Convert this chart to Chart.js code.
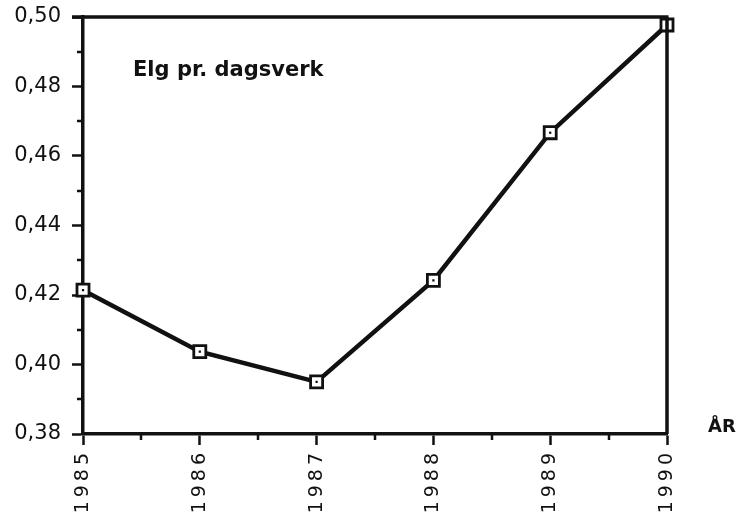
<!DOCTYPE html>
<html>
<head>
<meta charset="utf-8">
<script src="https://cdn.jsdelivr.net/npm/chart.js@4/dist/chart.umd.min.js"></script>
<style>
  html, body { margin: 0; padding: 0; background: #ffffff; }
  #wrap { width: 743px; height: 518px; }
</style>
</head>
<body>
<div id="wrap"><canvas id="chart" width="743" height="518"></canvas></div>
<script>
// Elg pr. dagsverk, 1985-1990
const years = ['1985', '1986', '1987', '1988', '1989', '1990'];
const elgPerDagsverk = [0.4214, 0.4037, 0.3950, 0.4242, 0.4667, 0.4977];
const yMin = 0.38;
const yMax = 0.50;
const yStep = 0.02;
const titleText = 'Elg pr. dagsverk';
const axisText = 'ÅR';

const ink = '#111111';

// sperring i årstallene, som på originalen
function spaceLabels(chart, scale, spacing) {
  if (!scale || scale._spaced) return;
  const orig = scale.drawLabels.bind(scale);
  scale.drawLabels = function (area) {
    const ctx = chart.ctx;
    ctx.save();
    ctx.letterSpacing = spacing;
    orig(area);
    ctx.restore();
  };
  scale._spaced = true;
}

// Ramme, små tikker og tekster som ikke passer i Chart.js sine egne felt.
const framePlugin = {
  id: 'framePlugin',
  beforeDraw(chart) {
    spaceLabels(chart, chart.scales.x, '4px');
  },
  afterDraw(chart) {
    const ctx = chart.ctx;
    const area = chart.chartArea;
    const xs = chart.scales.x;
    const ys = chart.scales.y;

    ctx.save();
    ctx.strokeStyle = ink;
    ctx.lineCap = 'butt';

    // topp og høyre kant
    ctx.lineWidth = 3.5;
    ctx.beginPath();
    ctx.moveTo(area.left - 11, area.top);
    ctx.lineTo(area.right + 1.5, area.top);
    ctx.moveTo(area.right, area.top);
    ctx.lineTo(area.right, area.bottom);
    ctx.stroke();

    // små tikker
    ctx.lineWidth = 2.5;
    ctx.beginPath();
    for (let v = yMin + yStep / 2; v < yMax; v += yStep) {
      const py = Math.round(ys.getPixelForValue(v));
      ctx.moveTo(area.left - 6, py);
      ctx.lineTo(area.left, py);
    }
    for (let i = 0; i < years.length - 1; i++) {
      const px = Math.round((xs.getPixelForTick(i) + xs.getPixelForTick(i + 1)) / 2);
      ctx.moveTo(px, area.bottom);
      ctx.lineTo(px, area.bottom + 6);
    }
    ctx.stroke();

    ctx.fillStyle = ink;
    ctx.textBaseline = 'alphabetic';
    ctx.textAlign = 'left';
    ctx.font = 'bold 21px "DejaVu Sans"';
    ctx.fillText(titleText, area.left + 50, area.top + 59);

    ctx.font = 'bold 18px "DejaVu Sans"';
    ctx.fillText(axisText, area.right + 41, area.bottom - 2);

    ctx.restore();
  }
};

new Chart(document.getElementById('chart'), {
  type: 'line',
  data: {
    labels: years,
    datasets: [
      {
        data: elgPerDagsverk,
        order: 2,
        borderColor: ink,
        borderWidth: 4.5,
        tension: 0,
        pointStyle: 'rect',
        pointRadius: 8.5,
        pointBorderWidth: 2.8,
        pointBackgroundColor: '#ffffff',
        pointBorderColor: ink
      },
      {
        data: elgPerDagsverk,
        order: 1,
        showLine: false,
        pointStyle: 'rect',
        pointRadius: 1.6,
        pointBorderWidth: 0,
        pointBackgroundColor: ink
      }
    ]
  },
  options: {
    responsive: false,
    animation: false,
    layout: { padding: { top: 17, right: 76, left: 0, bottom: 0 } },
    plugins: {
      legend: { display: false },
      tooltip: { enabled: false }
    },
    scales: {
      x: {
        type: 'category',
        offset: false,
        afterFit(scale) {
          scale.height = 84;
          scale.paddingLeft = 0;
          scale.paddingRight = 0;
        },
        grid: {
          drawOnChartArea: false,
          drawTicks: true,
          tickLength: 11,
          tickWidth: 2.5,
          tickColor: ink
        },
        border: { color: ink, width: 3.5 },
        ticks: {
          color: ink,
          font: { family: 'DejaVu Sans', size: 19 },
          minRotation: 90,
          maxRotation: 90,
          padding: 4,
          autoSkip: false
        }
      },
      y: {
        min: yMin,
        max: yMax,
        afterFit(scale) {
          scale.width = 83;
          scale.paddingTop = 0;
          scale.paddingBottom = 0;
        },
        grid: {
          drawOnChartArea: false,
          drawTicks: true,
          tickLength: 11,
          tickWidth: 2.5,
          tickColor: ink
        },
        border: { color: ink, width: 3.5 },
        ticks: {
          stepSize: yStep,
          color: ink,
          padding: 11,
          font: { family: 'DejaVu Sans', size: 21 },
          callback: (v) => Number(v).toFixed(2).replace('.', ',')
        }
      }
    }
  },
  plugins: [framePlugin]
});
</script>
</body>
</html>
